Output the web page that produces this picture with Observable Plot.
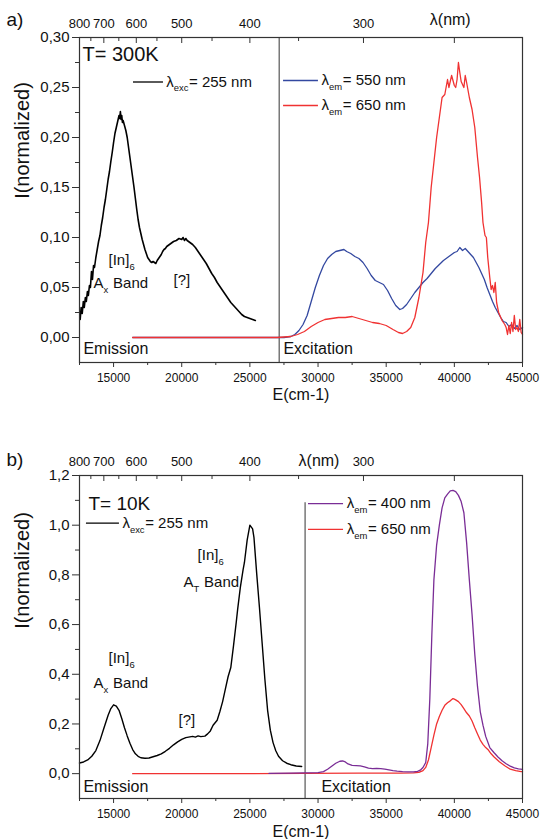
<!DOCTYPE html>
<html><head><meta charset="utf-8">
<script src="https://cdn.jsdelivr.net/npm/d3@7"></script>
<script src="https://cdn.jsdelivr.net/npm/@observablehq/plot@0.6"></script>
<style>
html,body{margin:0;padding:0;background:#fff;}
#chart{width:541px;height:839px;position:relative;overflow:hidden;background:#fff;}
#chart svg{display:block;}
</style></head><body><div id="chart"></div>
<script>
// ---------------- DATA ----------------
// Panel a (T = 300K): emission (λexc = 255 nm)
const emA_E = [12550,12620,12700,12780,12850,12930,13000,13080,13150,13230,13300,13380,13450,13530,13600,13700,13800,13900,14000,14100,14200,14300,14400,14500,14600,14700,14800,14900,15000,15100,15200,15300,15400,15450,15500,15550,15600,15650,15700,15800,15900,16000,16100,16200,16300,16400,16500,16600,16700,16800,16900,17000,17100,17200,17300,17400,17500,17600,17700,17800,17900,18000,18100,18200,18300,18400,18500,18600,18700,18800,18900,19000,19200,19400,19600,19800,20000,20100,20200,20300,20400,20500,20600,20800,21000,21200,21400,21600,21800,22000,22200,22400,22600,22800,23000,23200,23400,23600,23800,24000,24200,24400,24600,24800,25000,25200,25400];
const emA_I = [0.018,0.030,0.024,0.036,0.030,0.040,0.036,0.046,0.042,0.052,0.050,0.066,0.058,0.072,0.070,0.080,0.088,0.096,0.102,0.112,0.120,0.130,0.138,0.148,0.158,0.166,0.176,0.185,0.195,0.204,0.210,0.216,0.222,0.219,0.226,0.218,0.222,0.215,0.217,0.212,0.207,0.200,0.190,0.180,0.170,0.160,0.150,0.139,0.128,0.118,0.110,0.104,0.098,0.093,0.088,0.084,0.080,0.078,0.076,0.075,0.076,0.075,0.074,0.077,0.079,0.081,0.083,0.086,0.088,0.089,0.091,0.092,0.094,0.096,0.097,0.099,0.098,0.100,0.097,0.099,0.097,0.096,0.095,0.093,0.090,0.086,0.082,0.078,0.074,0.069,0.064,0.060,0.055,0.051,0.047,0.043,0.039,0.035,0.032,0.029,0.026,0.023,0.021,0.020,0.019,0.018,0.017];
// Panel a: excitation λem = 550 nm
const ex550_E = [16400,27000,27500,28000,28300,28600,28900,29200,29500,29800,30100,30400,30700,31000,31300,31600,31900,32100,32400,32700,33000,33300,33600,33900,34200,34500,34800,35100,35400,35700,36000,36200,36500,36800,37100,37400,37700,38000,38300,38600,38900,39200,39500,39800,40000,40200,40400,40600,40800,41000,41200,41400,41600,41800,42000,42200,42400,42600,42800,43000,43200,43400,43600,43800,44000,44200,44400,44600,44800,45000];
const ex550_I = [0.000,0.000,0.000,0.001,0.003,0.007,0.013,0.022,0.036,0.050,0.062,0.072,0.079,0.083,0.086,0.087,0.088,0.086,0.084,0.081,0.079,0.075,0.069,0.062,0.057,0.055,0.053,0.047,0.039,0.032,0.028,0.029,0.033,0.039,0.045,0.050,0.055,0.059,0.064,0.069,0.073,0.077,0.080,0.083,0.085,0.086,0.090,0.087,0.089,0.086,0.083,0.080,0.075,0.070,0.064,0.058,0.050,0.043,0.036,0.030,0.025,0.020,0.016,0.015,0.011,0.013,0.009,0.012,0.008,0.010];
// Panel a: excitation λem = 650 nm
const ex650a_E = [16400,20000,25000,27000,28000,28500,29000,29500,30000,30500,31000,31500,32000,32500,33000,33500,34000,34500,35000,35500,35900,36200,36500,36800,37100,37400,37700,37900,38100,38300,38500,38700,38900,39100,39300,39500,39600,39800,40000,40100,40200,40300,40400,40500,40700,40800,40900,41100,41300,41500,41700,41850,42000,42100,42250,42350,42450,42600,42700,42800,42900,43000,43100,43250,43500,43700,43800,43900,44000,44100,44200,44300,44400,44500,44600,44700,44800,44900,45000];
const ex650a_I = [0.000,0.000,0.000,0.000,0.001,0.003,0.006,0.011,0.015,0.018,0.019,0.020,0.020,0.021,0.019,0.017,0.015,0.014,0.012,0.008,0.005,0.004,0.006,0.010,0.020,0.040,0.065,0.095,0.115,0.150,0.175,0.200,0.220,0.240,0.243,0.258,0.250,0.262,0.252,0.250,0.258,0.275,0.265,0.256,0.250,0.262,0.255,0.240,0.228,0.210,0.180,0.160,0.135,0.115,0.102,0.100,0.080,0.060,0.048,0.052,0.045,0.055,0.035,0.025,0.017,0.013,0.010,0.003,0.012,0.004,0.015,0.006,0.022,0.008,0.010,0.006,0.018,0.005,0.003];

// Panel b (T = 10K): emission (λexc = 255 nm)
const emB_E = [12500,12800,13100,13400,13700,14000,14300,14600,14800,15000,15200,15400,15600,15800,16000,16200,16400,16600,16800,17000,17300,17600,17900,18200,18500,18800,19100,19400,19700,20000,20300,20600,20800,21000,21200,21400,21700,21900,22100,22300,22600,22800,23000,23200,23400,23600,23800,24000,24100,24300,24500,24600,24800,25000,25200,25300,25500,25700,25900,26100,26300,26500,26700,26900,27100,27400,27700,28000,28400,28800];
const emB_I = [0.043,0.047,0.055,0.070,0.093,0.133,0.185,0.235,0.262,0.277,0.272,0.255,0.222,0.185,0.152,0.122,0.097,0.080,0.070,0.064,0.062,0.063,0.068,0.073,0.080,0.090,0.102,0.116,0.128,0.138,0.145,0.148,0.150,0.147,0.152,0.149,0.151,0.160,0.172,0.195,0.215,0.250,0.290,0.340,0.390,0.427,0.515,0.610,0.660,0.750,0.820,0.850,0.940,1.000,0.985,0.950,0.805,0.670,0.525,0.380,0.255,0.175,0.125,0.092,0.070,0.052,0.042,0.036,0.031,0.029];
// Panel b: excitation λem = 400 nm
const ex400_E = [26400,28000,29000,30000,30400,30700,31000,31300,31600,31800,32000,32200,32500,32800,33100,33400,33700,34000,34300,34600,34900,35200,35500,35800,36200,36600,37000,37300,37500,37700,37900,38050,38200,38350,38500,38700,38900,39100,39300,39500,39700,39900,40100,40300,40500,40700,40900,41100,41300,41500,41700,41900,42100,42300,42600,42900,43200,43500,43800,44100,44400,44700,45000];
const ex400_I = [0.001,0.002,0.003,0.004,0.008,0.018,0.030,0.042,0.050,0.051,0.047,0.039,0.033,0.032,0.031,0.027,0.022,0.020,0.021,0.020,0.018,0.015,0.012,0.010,0.008,0.007,0.007,0.009,0.014,0.025,0.045,0.120,0.300,0.560,0.780,0.920,1.000,1.070,1.110,1.125,1.138,1.140,1.135,1.120,1.095,1.050,0.930,0.780,0.640,0.480,0.350,0.250,0.195,0.150,0.105,0.085,0.067,0.052,0.040,0.030,0.023,0.019,0.017];
// Panel b: excitation λem = 650 nm
const ex650b_E = [16400,25000,29000,33000,36000,37000,37400,37700,37900,38100,38300,38500,38700,38900,39100,39300,39500,39700,39900,40000,40100,40300,40500,40700,40900,41100,41300,41500,41700,41900,42100,42300,42500,42700,42900,43100,43300,43500,43700,43900,44100,44300,44500,44700,44900,45000];
const ex650b_I = [0.000,0.000,0.001,0.002,0.002,0.003,0.005,0.012,0.025,0.055,0.105,0.155,0.200,0.230,0.255,0.275,0.285,0.293,0.302,0.300,0.297,0.290,0.278,0.262,0.245,0.232,0.212,0.185,0.160,0.135,0.118,0.105,0.095,0.080,0.068,0.058,0.048,0.040,0.032,0.025,0.018,0.015,0.012,0.010,0.008,0.008];

// Axes / tick labels
const xDomain = [12500, 45000];
const xMajor = [15000, 20000, 25000, 30000, 35000, 40000, 45000];
const xMinor = [12500, 17500, 22500, 27500, 32500, 37500, 42500];
const wlLabels = [800, 700, 600, 500, 400, 300];
const wlMajor = [800, 700, 600, 500, 400, 300, 250];
const wlMinor = [750, 650, 550, 450, 350];
const yDomainA = [-0.025, 0.30];
const yMajorA = [0, 0.05, 0.10, 0.15, 0.20, 0.25, 0.30];
const yMinorA = [0.025, 0.075, 0.125, 0.175, 0.225, 0.275];
const yDomainB = [-0.1, 1.2];
const yMajorB = [0, 0.2, 0.4, 0.6, 0.8, 1.0, 1.2];
const yMinorB = [0.1, 0.3, 0.5, 0.7, 0.9, 1.1];
const dividerA = 27150;
const dividerB = 29050;

// ---------------- RENDER ----------------
const FONT = '"Liberation Sans", Arial, Helvetica, sans-serif';
const C = {black: "#000000", blue: "#3348a0", red: "#f03232", purple: "#7a2d96", frame: "#333333", divider: "#555555", text: "#111111"};
const zip = (E, I) => E.map((e, i) => ({E: e, I: I[i]}));
const cctx = document.createElement("canvas").getContext("2d");
function tw(s, size) { cctx.font = `${size}px ${FONT}`; return cctx.measureText(s).width; }
const comma = (d, n) => d.toFixed(n).replace(".", ",");

// text with subscripts: parts = [[text, isSub], ...]
function rich(x, y, parts, size) {
  const marks = []; let off = 0;
  for (let [t, sub] of parts) {
    const fs = sub ? size * 0.63 : size;
    if (t.startsWith(" ")) { off += tw(" ", fs); t = t.trimStart(); }
    marks.push(Plot.text([{x, y, t}], {x: "x", y: "y", text: "t", dx: off, dy: sub ? size * 0.42 : 0,
      fontSize: fs, textAnchor: "start", lineAnchor: "middle", fill: C.text}));
    off += tw(t, fs) + (sub ? 0.6 : 0);
  }
  return marks;
}
function legendItem(x1, x2, y, color, parts, size) {
  return [
    Plot.ruleY([y], {x1: x1, x2: x2, stroke: color, strokeWidth: 1.3}),
    ...rich(x2 + (x2 - x1) * 0.09, y, parts, size)
  ];
}
function fixed(t, o) {
  return Plot.text([t], {text: d => d, lineAnchor: "middle", fill: C.text, ...o});
}
function commonAxes(yMajor, yMinor, digits, topLabelDy, lambdaE, lambdaDy) {
  return [
    Plot.axisX({anchor: "bottom", ticks: xMajor, tickSize: 5, tickPadding: 6, fontSize: 12, tickFormat: d => String(d), label: null, stroke: C.frame}),
    Plot.axisX({anchor: "bottom", ticks: xMinor, tickSize: 3, tickFormat: () => "", label: null, stroke: C.frame}),
    Plot.axisX({anchor: "top", ticks: wlMajor.map(w => 1e7 / w), tickSize: -5, tickFormat: () => "", label: null, stroke: C.frame}),
    Plot.axisX({anchor: "top", ticks: wlMinor.map(w => 1e7 / w), tickSize: -3, tickFormat: () => "", label: null, stroke: C.frame}),
    Plot.text(wlLabels, {x: w => 1e7 / w, text: w => String(w), frameAnchor: "top", lineAnchor: "middle", dy: topLabelDy, fontSize: 13, fill: C.text}),
    Plot.text(["λ(nm)"], {x: () => lambdaE, text: d => d, frameAnchor: "top", lineAnchor: "middle", dy: lambdaDy, fontSize: 16, fill: C.text}),
    Plot.axisY({anchor: "left", ticks: yMajor, tickSize: 7, tickPadding: 3, fontSize: 15, tickFormat: d => comma(d, digits), label: null, stroke: C.frame}),
    Plot.axisY({anchor: "left", ticks: yMinor, tickSize: 4, tickFormat: () => "", label: null, stroke: C.frame}),
    Plot.frame({stroke: C.frame, strokeWidth: 1.2})
  ];
}

// Panel a
const plotA = Plot.plot({
  width: 541, height: 400,
  marginTop: 37, marginBottom: 38, marginLeft: 79, marginRight: 19,
  style: {fontFamily: FONT, fontSize: "13px", color: C.text, background: "white", overflow: "visible"},
  x: {domain: xDomain}, y: {domain: yDomainA},
  marks: [
    Plot.ruleX([dividerA], {y1: yDomainA[0], y2: yDomainA[1], stroke: C.divider, strokeWidth: 1.2}),
    Plot.line(zip(emA_E, emA_I), {x: "E", y: "I", stroke: C.black, strokeWidth: 1.6}),
    Plot.line(zip(ex550_E, ex550_I), {x: "E", y: "I", stroke: C.blue, strokeWidth: 1.3}),
    Plot.line(zip(ex650a_E, ex650a_I), {x: "E", y: "I", stroke: C.red, strokeWidth: 1.3}),
    ...commonAxes(yMajorA, yMinorA, 2, -13.5, 39700, -18),
    fixed("a)", {frameAnchor: "top-left", dx: -73, dy: -18, textAnchor: "start", fontSize: 19}),
    fixed("I(normalized)", {frameAnchor: "top-left", dx: -57, dy: 103, rotate: -90, textAnchor: "middle", fontSize: 20}),
    fixed("E(cm-1)", {frameAnchor: "bottom", dy: 32, textAnchor: "middle", fontSize: 16}),
    Plot.text([{x: 12720, y: 0.283, t: "T= 300K"}], {x: "x", y: "y", text: "t", textAnchor: "start", lineAnchor: "middle", fontSize: 20, fill: C.text}),
    ...legendItem(16460, 18660, 0.2555, C.black, [["λ", false], ["exc", true], ["= 255 nm", false]], 15),
    ...legendItem(27470, 30030, 0.257, C.blue, [["λ", false], ["em", true], ["= 550 nm", false]], 15),
    ...legendItem(27470, 30030, 0.232, C.red, [["λ", false], ["em", true], ["= 650 nm", false]], 15),
    ...rich(14630, 0.077, [["[In]", false], ["6", true]], 15),
    ...rich(13530, 0.054, [["A", false], ["x", true], [" Band", false]], 15),
    ...rich(19400, 0.057, [["[?]", false]], 15),
    ...rich(12790, -0.011, [["Emission", false]], 16),
    ...rich(27460, -0.011, [["Excitation", false]], 16)
  ]
});

// Panel b
const plotB = Plot.plot({
  width: 541, height: 439,
  marginTop: 75, marginBottom: 41, marginLeft: 79, marginRight: 19,
  style: {fontFamily: FONT, fontSize: "13px", color: C.text, background: "white", overflow: "visible"},
  x: {domain: xDomain}, y: {domain: yDomainB},
  marks: [
    Plot.ruleX([dividerB], {y1: yDomainB[0], y2: 1.09, stroke: C.divider, strokeWidth: 1.2}),
    Plot.line(zip(emB_E, emB_I), {x: "E", y: "I", stroke: C.black, strokeWidth: 1.4}),
    Plot.line(zip(ex650b_E, ex650b_I), {x: "E", y: "I", stroke: C.red, strokeWidth: 1.3}),
    Plot.line(zip(ex400_E, ex400_I), {x: "E", y: "I", stroke: C.purple, strokeWidth: 1.3}),
    ...commonAxes(yMajorB, yMinorB, 1, -13.5, 30070, -14.5),
    fixed("b)", {frameAnchor: "top-left", dx: -73, dy: -16, textAnchor: "start", fontSize: 19}),
    fixed("I(normalized)", {frameAnchor: "top-left", dx: -57, dy: 95, rotate: -90, textAnchor: "middle", fontSize: 20}),
    fixed("E(cm-1)", {frameAnchor: "bottom", dy: 33, textAnchor: "middle", fontSize: 16}),
    Plot.text([{x: 13160, y: 1.085, t: "T= 10K"}], {x: "x", y: "y", text: "t", textAnchor: "start", lineAnchor: "middle", fontSize: 19, fill: C.text}),
    ...legendItem(13010, 15430, 1.008, C.black, [["λ", false], ["exc", true], ["= 255 nm", false]], 15),
    ...legendItem(29300, 31870, 1.087, C.purple, [["λ", false], ["em", true], ["= 400 nm", false]], 15),
    ...legendItem(29300, 31870, 0.983, C.red, [["λ", false], ["em", true], ["= 650 nm", false]], 15),
    ...rich(21160, 0.878, [["[In]", false], ["6", true]], 15),
    ...rich(20130, 0.769, [["A", false], ["T", true], [" Band", false]], 15),
    ...rich(14630, 0.463, [["[In]", false], ["6", true]], 15),
    ...rich(13530, 0.363, [["A", false], ["x", true], [" Band", false]], 15),
    ...rich(19760, 0.214, [["[?]", false]], 15),
    ...rich(12790, -0.052, [["Emission", false]], 16),
    ...rich(30250, -0.052, [["Excitation", false]], 16)
  ]
});

const root = document.getElementById("chart");
root.appendChild(plotA);
root.appendChild(plotB);
</script>
</body></html>
